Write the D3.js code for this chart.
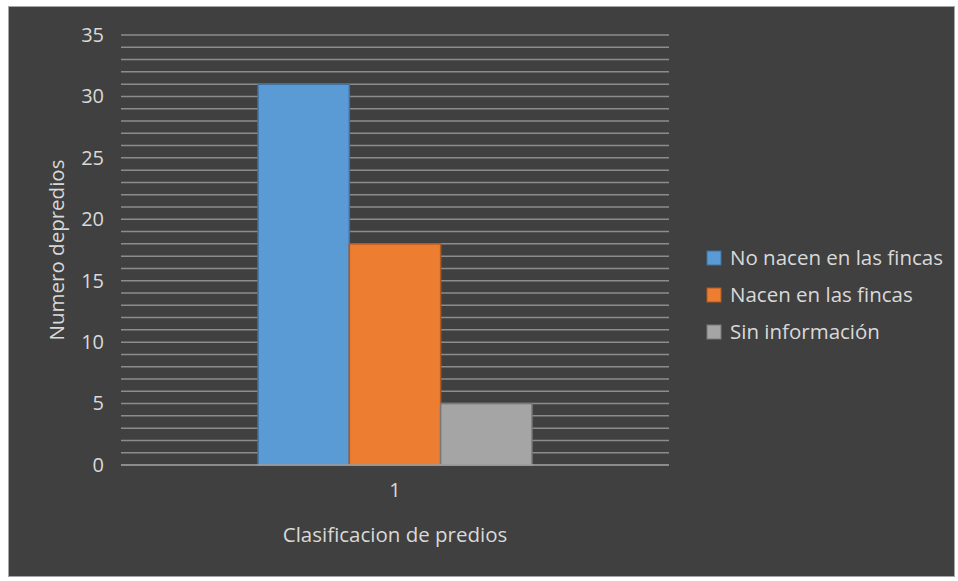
<!DOCTYPE html>
<html>
<head>
<meta charset="utf-8">
<script src="https://cdn.jsdelivr.net/npm/d3@7"></script>
<style>
body { margin: 0; background: #fff; }
svg text { font-family: "Open Sans", sans-serif; fill: #d9d9d9; }
</style>
</head>
<body>
<div id="chart"></div>
<script>
var categories = ["1"];
var series = ["No nacen en las fincas", "Nacen en las fincas", "Sin información"];
var values = [31, 18, 5];
var colors = ["#5b9bd5", "#ed7d31", "#a5a5a5"];
var strokes = ["#41719c", "#ae5a21", "#787878"];
var yTicks = [0, 5, 10, 15, 20, 25, 30, 35];

var W = 958, H = 581;
var margin = { top: 35, right: 289, bottom: 116, left: 121 },
	width = W - margin.left - margin.right,
	height = H - margin.top - margin.bottom;

var root = d3.select("#chart").append("svg")
	.attr("width", W)
	.attr("height", H);

// chart frame
root.append("rect")
	.attr("x", 8.5).attr("y", 6.5)
	.attr("width", 946).attr("height", 570)
	.attr("fill", "#404040")
	.attr("stroke", "#a6a6a6");

var svg = root.append("g")
	.attr("transform", "translate(" + margin.left + "," + margin.top + ")");

var y = d3.scaleLinear().domain([0, 35]).range([height, 0]);

var x0 = d3.scaleBand().domain(categories).range([0, width]).paddingInner(0).paddingOuter(0.5);
var x1 = d3.scaleBand().domain(series).range([0, x0.bandwidth()]);

// gridlines every 1 unit
svg.selectAll("line.grid")
	.data(d3.range(1, 36))
	.enter()
	.append("line")
	.attr("class", "grid")
	.attr("x1", 0).attr("x2", width)
	.attr("y1", d => y(d)).attr("y2", d => y(d))
	.attr("stroke", "#8c8c8c")
	.attr("stroke-width", 1.5);

// bars
svg.selectAll("rect.bar")
	.data(values)
	.enter()
	.append("rect")
	.attr("class", "bar")
	.attr("x", (d, i) => x0(categories[0]) + x1(series[i]))
	.attr("y", d => y(d))
	.attr("width", x1.bandwidth())
	.attr("height", d => height - y(d))
	.attr("fill", (d, i) => colors[i])
	.attr("stroke", (d, i) => strokes[i])
	.attr("stroke-width", 1.5);

// baseline
svg.append("line")
	.attr("x1", 0).attr("x2", width)
	.attr("y1", height).attr("y2", height)
	.attr("stroke", "#a6a6a6")
	.attr("stroke-width", 1.5);

// y axis labels
var yAxis = svg.append("g").call(d3.axisLeft(y).tickValues(yTicks).tickSize(0).tickPadding(17));
yAxis.select(".domain").remove();
yAxis.selectAll("text").style("font-size", "20px").attr("fill", "#d9d9d9");

// x axis labels
var xAxis = svg.append("g")
	.attr("transform", "translate(0," + height + ")")
	.call(d3.axisBottom(x0).tickSize(0).tickPadding(18));
xAxis.select(".domain").remove();
xAxis.selectAll("text").style("font-size", "20px").attr("fill", "#d9d9d9");

// axis titles
root.append("text")
	.attr("transform", "translate(57," + (margin.top + height / 2) + ") rotate(-90)")
	.attr("text-anchor", "middle")
	.attr("dy", "0.35em")
	.style("font-size", "20.5px")
	.text("Numero depredios");

root.append("text")
	.attr("x", margin.left + width / 2)
	.attr("y", 535)
	.attr("dy", "0.35em")
	.attr("text-anchor", "middle")
	.style("font-size", "20.5px")
	.text("Clasificacion de predios");

// legend
var legend = root.append("g").attr("transform", "translate(707,258)");
var item = legend.selectAll("g")
	.data(series)
	.enter()
	.append("g")
	.attr("transform", (d, i) => "translate(0," + i * 37 + ")");
item.append("rect")
	.attr("x", 0).attr("y", -7)
	.attr("width", 14).attr("height", 14)
	.attr("fill", (d, i) => colors[i])
	.attr("stroke", (d, i) => strokes[i]);
item.append("text")
	.attr("x", 23).attr("y", 0)
	.attr("dy", "0.35em")
	.style("font-size", "20.5px")
	.text(d => d);
</script>
</body>
</html>
